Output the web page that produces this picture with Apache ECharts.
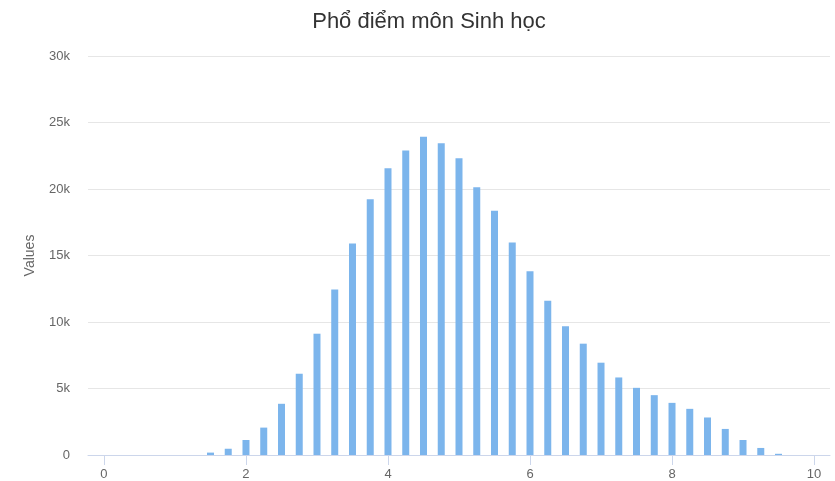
<!DOCTYPE html>
<html>
<head>
<meta charset="utf-8">
<script src="https://cdn.jsdelivr.net/npm/echarts@6/dist/echarts.min.js"></script>
<style>
html,body{margin:0;padding:0;background:#fff;}
#c{width:835px;height:481px;}
</style>
</head>
<body>
<div id="c"></div>
<script>
const titleText = "Phổ điểm môn Sinh học";
const yAxisName = "Values";
const scores = [0,0.25,0.5,0.75,1,1.25,1.5,1.75,2,2.25,2.5,2.75,3,3.25,3.5,3.75,4,4.25,4.5,4.75,5,5.25,5.5,5.75,6,6.25,6.5,6.75,7,7.25,7.5,7.75,8,8.25,8.5,8.75,9,9.25,9.5,9.75,10];
const counts = [0,0,0,0,0,0,180,470,1130,2060,3850,6110,9120,12440,15910,19230,21560,22890,23920,23440,22310,20130,18370,15980,13820,11590,9680,8370,6940,5830,5050,4500,3920,3470,2820,1960,1130,530,90,0,0];
const xTicks = [0,2,4,6,8,10];

const FONT = 'Liberation Sans, Arial, sans-serif';
const chart = echarts.init(document.getElementById('c'));
chart.setOption({
  animation:false,
  backgroundColor:'#ffffff',
  title:{
    text:titleText,
    left:424, top:6, textAlign:'center',
    textStyle:{fontFamily:FONT,fontSize:22,fontWeight:'normal',color:'#333333'}
  },
  grid:{left:88,right:5,top:56,bottom:26,containLabel:false},
  xAxis:{
    type:'value', min:-0.225, max:10.225,
    axisLine:{show:true,lineStyle:{color:'#ccd6eb',width:1}},
    axisTick:{show:true,length:10,customValues:xTicks,lineStyle:{color:'#ccd6eb'}},
    axisLabel:{customValues:xTicks,color:'#666666',fontSize:13,margin:13,fontFamily:FONT},
    splitLine:{show:false}
  },
  yAxis:{
    type:'value', min:0, max:30000, interval:5000,
    name:yAxisName, nameLocation:'middle', nameGap:51, nameRotate:90,
    nameTextStyle:{color:'#666666',fontSize:14,fontFamily:FONT},
    axisLine:{show:false}, axisTick:{show:false},
    axisLabel:{color:'#666666',fontSize:13,margin:18,fontFamily:FONT,
      formatter:v=> v===0?'0':(v/1000)+'k'},
    splitLine:{lineStyle:{color:'#e6e6e6',width:1}}
  },
  series:[{
    type:'bar',
    data:scores.map((s,i)=>[s,counts[i]]),
    barWidth:7,
    itemStyle:{color:'#7cb5ec'}
  }]
});
</script>
</body>
</html>
